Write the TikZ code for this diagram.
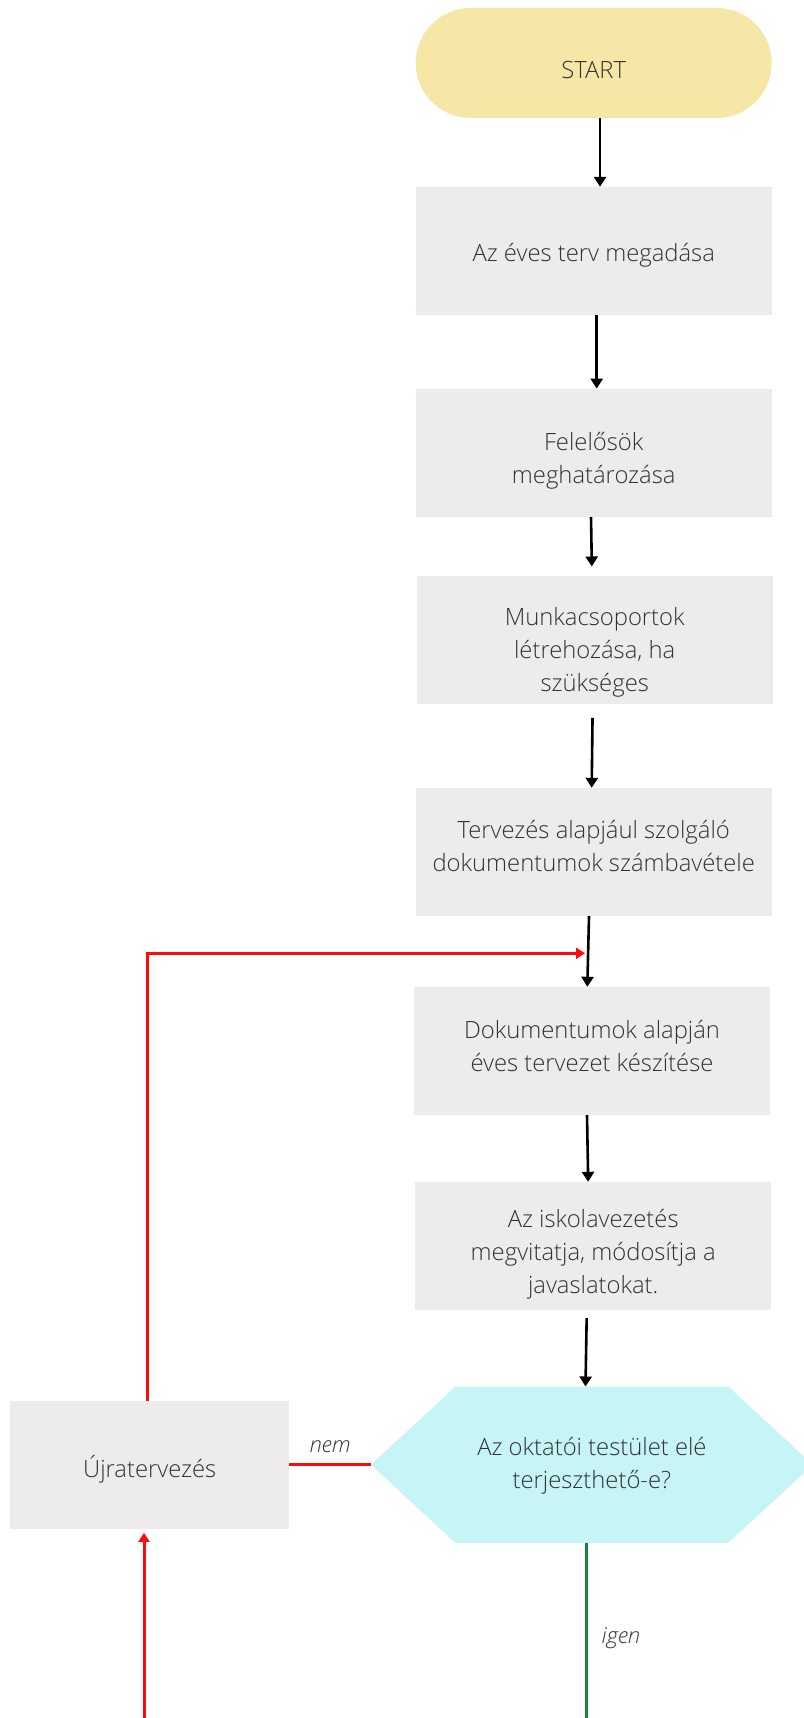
\documentclass[tikz,border=0pt]{standalone}
\usepackage{fontspec}
\setmainfont{Open Sans Light}
\usetikzlibrary{arrows.meta,calc}
\definecolor{startfill}{RGB}{247,231,166}
\definecolor{boxfill}{RGB}{237,236,234}
\definecolor{hexfill}{RGB}{199,244,246}
\definecolor{txt}{RGB}{50,50,50}
\definecolor{nored}{RGB}{255,10,10}
\definecolor{yesgreen}{RGB}{16,135,60}
\begin{document}
\begin{tikzpicture}[x=1pt,y=-1pt,
  txtstyle/.style={font=\fontsize{23.8}{33}\selectfont, text=txt, align=center},
  stepbox/.style={fill=boxfill, minimum width=356pt, minimum height=128pt, inner sep=0pt},
  arr/.style={line width=2.6pt, black, -{Triangle[width=12pt,length=10pt]}},
  redline/.style={line width=3pt, nored},
  redarr/.style={redline, -{Triangle[width=11pt,length=9pt]}},
  lbl/.style={font=\fontsize{22}{26}\itshape, text=txt}]
\useasboundingbox (0,0) rectangle (803,1718);
\fill[white] (0,0) rectangle (803,1718);

% start terminal
\node[fill=startfill, rounded corners=55pt, minimum width=356pt, minimum height=110pt, inner sep=0pt] (start) at (593.7,63) {};
\node[txtstyle] at (593.7,70) {START};

% process boxes
\node[stepbox] (b1) at (593.7,251) {};
\node[txtstyle] at (593.7,255) {Az éves terv megadása};
\node[stepbox] (b2) at (593.7,452.8) {};
\node[txtstyle] at (593.7,461) {Felelősök\\meghatározása};
\node[stepbox] (b3) at (594.7,639.7) {};
\node[txtstyle] at (594.7,652) {Munkacsoportok\\létrehozása, ha\\szükséges};
\node[stepbox] (b4) at (593.7,852) {};
\node[txtstyle] at (593.7,846) {Tervezés alapjául szolgáló\\dokumentumok számbavétele};
\node[stepbox] (b5) at (592,1051) {};
\node[txtstyle] at (592,1046) {Dokumentumok alapján\\éves tervezet készítése};
\node[stepbox] (b6) at (593.2,1246) {};
\node[txtstyle] at (593.2,1254) {Az iskolavezetés\\megvitatja, módosítja a\\javaslatokat.};

% decision
\node[minimum width=441.4pt, minimum height=156pt, inner sep=0pt] (hex) at (591.9,1464.7) {};
\fill[hexfill] (hex.west) -- ([xshift=84.5pt]hex.north west) -- ([xshift=-84.5pt]hex.north east)
  -- (hex.east) -- ([xshift=-84.5pt]hex.south east) -- ([xshift=84.5pt]hex.south west) -- cycle;
\node[txtstyle] at (591.9,1466) {Az oktatói testület elé\\terjeszthető-e?};

% replanning
\node[stepbox, minimum width=279pt] (ujra) at (149.75,1464.7) {};
\node[txtstyle] at (149.75,1469) {Újratervezés};

% main flow
\draw[arr] ([xshift=6.3pt]start.south) -- ([xshift=6.3pt]b1.north);
\draw[arr] ([xshift=3pt]b1.south) -- ([xshift=3pt]b2.north);
\draw[arr, shorten >=9pt] ([xshift=-2.7pt]b2.south) -- ([xshift=-2.7pt]b3.north);
\draw[arr, shorten <=14pt] ([xshift=-2pt]b3.south) -- ([xshift=-2pt]b4.north);
\draw[arr] ([xshift=-4.7pt]b4.south) -- ([xshift=-4.7pt]b5.north);
\draw[arr] ([xshift=-5pt]b5.south) -- ([xshift=-5pt]b6.north);
\draw[arr, shorten <=8pt] ([xshift=-6.4pt]b6.south) -- ([xshift=-6.4pt]hex.north);

% feedback loop
\coordinate (redin) at (585,953.3);
\draw[redarr] ([xshift=-2.2pt]ujra.north) |- (redin);
\draw[redline] (ujra.east) -- (hex.west) node[lbl, pos=0.5, above=7pt] {nem};
\coordinate (redfoot) at (144,1718);
\draw[redarr, shorten >=4pt] (redfoot) -- (redfoot |- ujra.south);

% yes branch
\coordinate (greenfoot) at (586.3,1718);
\draw[line width=2.8pt, yesgreen] (greenfoot |- hex.south) -- (greenfoot);
\node[lbl] at (621,1638) {igen};
\end{tikzpicture}
\end{document}
